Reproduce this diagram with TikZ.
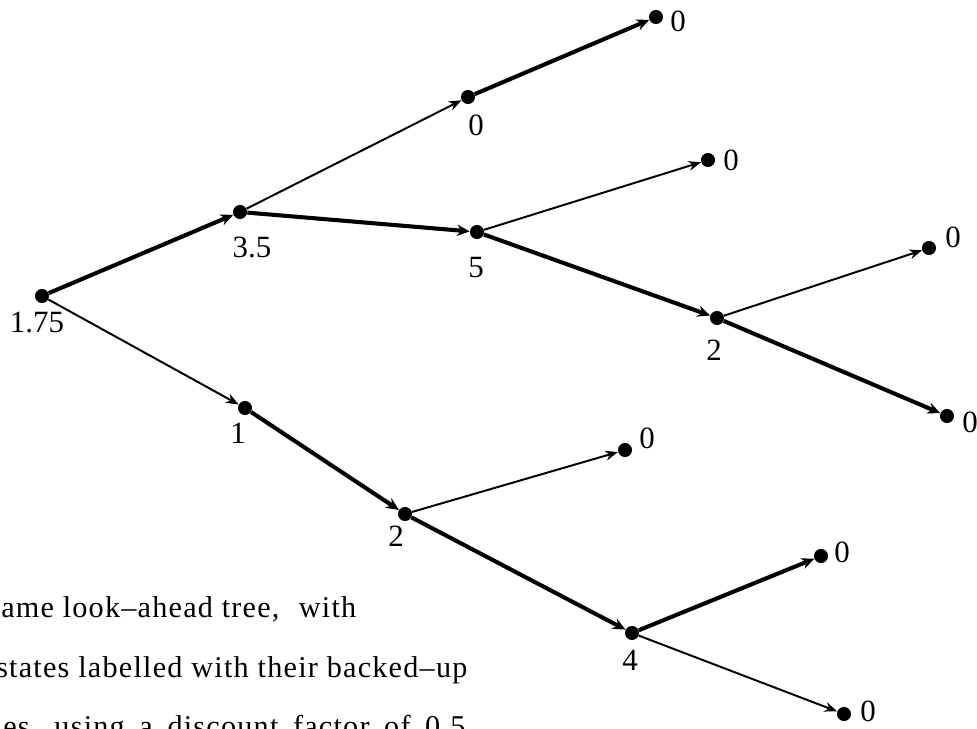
\documentclass[tikz,border=0pt]{standalone}
\usepackage{fontspec}
\setmainfont{Liberation Serif}
\newfontfamily\spacedfont[LetterSpace=4]{Liberation Serif}
\usetikzlibrary{arrows.meta}
\tikzset{
  dot/.style={circle,fill=black,inner sep=0pt,minimum size=10},
  lab/.style={inner sep=0pt,font=\fontsize{22}{26}\selectfont},
  captext/.style={inner sep=0pt,anchor=base west,font=\spacedfont\fontsize{21.5}{26}\selectfont},
  thinedge/.style={line width=1.4pt,-{Stealth[length=9pt,width=7pt]}},
  thickedge/.style={line width=2.9pt,-{Stealth[length=9pt,width=8pt]}},
}
\begin{document}
\begin{tikzpicture}[x=0.025cm,y=-0.025cm]
\clip (0,0) rectangle (977,728);
\useasboundingbox (0,0) rectangle (977,728);
% state dots
\node[dot] (r) at (42,296) {};
\node[dot] (a) at (240,212) {};
\node[dot] (b) at (245,408) {};
\node[dot] (a1) at (468,97) {};
\node[dot] (a1a) at (656,17) {};
\node[dot] (a2) at (477,232) {};
\node[dot] (a2a) at (708,160) {};
\node[dot] (a2b) at (717,318) {};
\node[dot] (a2b1) at (929,248) {};
\node[dot] (a2b2) at (947,416) {};
\node[dot] (b1) at (405,514) {};
\node[dot] (b1a) at (625,450) {};
\node[dot] (b2) at (632,633) {};
\node[dot] (b2a) at (821,556) {};
\node[dot] (b2b) at (844,714) {};
% labels
\node[lab] (lr) at (37,323) {1.75};
\node[lab] (la) at (252,247) {3.5};
\node[lab] (lb) at (238,433) {1};
\node[lab] (la1) at (476,125) {0};
\node[lab] (la1a) at (678,21) {0};
\node[lab] (la2) at (476,268) {5};
\node[lab] (la2a) at (731,160) {0};
\node[lab] (la2b) at (714,350) {2};
\node[lab] (la2b1) at (953,237) {0};
\node[lab] (la2b2) at (970,422) {0};
\node[lab] (lb1) at (396,536) {2};
\node[lab] (lb1a) at (647,438) {0};
\node[lab] (lb2) at (630,660) {4};
\node[lab] (lb2a) at (842,552) {0};
\node[lab] (lb2b) at (868,711) {0};
% edges
\draw[thickedge] (r) -- (a);
\draw[thinedge] (r) -- (b);
\draw[thinedge] (a) -- (a1);
\draw[thickedge] (a) -- (a2);
\draw[thickedge] (a1) -- (a1a);
\draw[thinedge] (a2) -- (a2a);
\draw[thickedge] (a2) -- (a2b);
\draw[thinedge] (a2b) -- (a2b1);
\draw[thickedge] (a2b) -- (a2b2);
\draw[thickedge] (b) -- (b1);
\draw[thinedge] (b1) -- (b1a);
\draw[thickedge] (b1) -- (b2);
\draw[thickedge] (b2) -- (b2a);
\draw[thinedge] (b2) -- (b2b);
% caption fragments
\node[captext] (t1) at (1,617) {ame look–ahead tree,\hspace{0.35em} with};
\node[captext] (t2) at (-4,677) {\makebox[11.775cm][s]{states labelled with their backed–up}};
\node[captext] (t3) at (3,736) {\makebox[11.55cm][s]{es, using a discount factor of 0.5}};
\end{tikzpicture}
\end{document}
